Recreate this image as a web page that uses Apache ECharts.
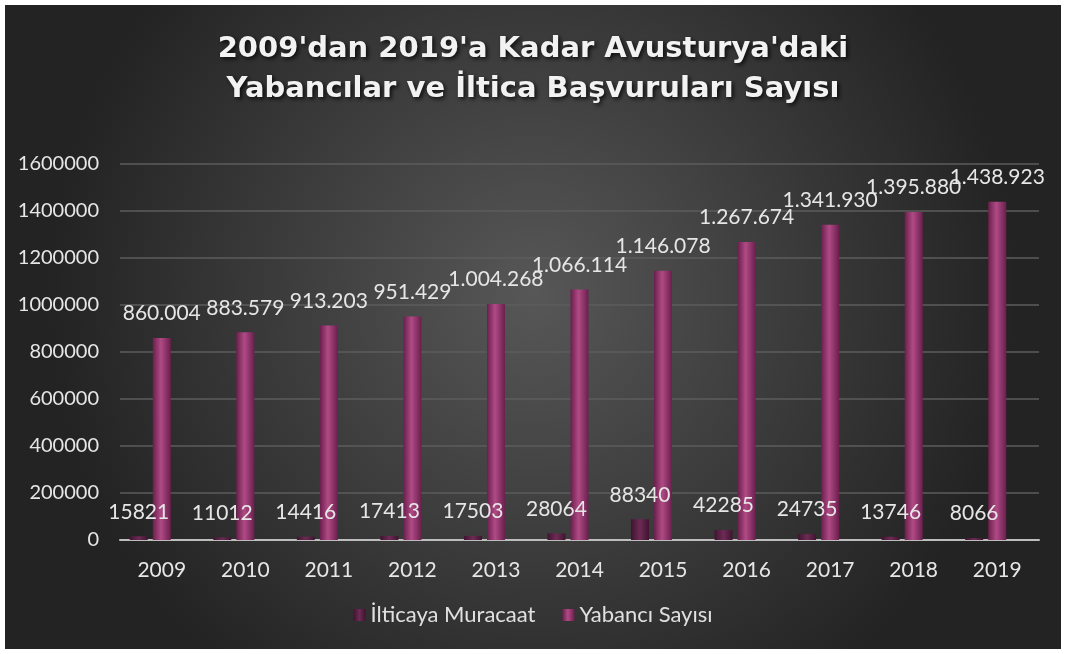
<!DOCTYPE html>
<html>
<head>
<meta charset="utf-8">
<script src="https://cdn.jsdelivr.net/npm/echarts@6/dist/echarts.min.js"></script>
<style>
  html, body { margin: 0; padding: 0; background: #fff; }
  #chart { position: absolute; left: 5px; top: 5px; width: 1056px; height: 644px; }
</style>
</head>
<body>
<div id="chart"></div>
<script>
  var years = ['2009', '2010', '2011', '2012', '2013', '2014', '2015', '2016', '2017', '2018', '2019'];
  var iltica = [15821, 11012, 14416, 17413, 17503, 28064, 88340, 42285, 24735, 13746, 8066];
  var yabanci = [860004, 883579, 913203, 951429, 1004268, 1066114, 1146078, 1267674, 1341930, 1395880, 1438923];

  var font = 'Lato, "Open Sans", sans-serif';

  function dotted(v) {
    return String(v).replace(/\B(?=(\d{3})+(?!\d))/g, '.');
  }

  var myChart = echarts.init(document.getElementById('chart'));
  window.onresize = myChart.resize;
  myChart.setOption({
    backgroundColor: {
      type: 'radial', x: 0.5, y: 0.45, r: 0.75,
      colorStops: [
        { offset: 0, color: '#575757' },
        { offset: 1, color: '#232323' }
      ]
    },
    title: {
      text: "2009'dan 2019'a Kadar Avusturya'daki\nYabancılar ve İltica Başvuruları Sayısı",
      left: 'center',
      top: 19,
      textStyle: {
        color: '#f2f2f2',
        fontFamily: '"DejaVu Sans", sans-serif',
        fontWeight: 'bold',
        fontSize: 29,
        lineHeight: 40,
        textShadowColor: 'rgba(0,0,0,0.8)',
        textShadowBlur: 4,
        textShadowOffsetX: 2,
        textShadowOffsetY: 2
      }
    },
    legend: {
      data: ['İlticaya Muracaat', 'Yabancı Sayısı'],
      bottom: 18,
      left: 'center',
      icon: 'rect',
      itemWidth: 12,
      itemHeight: 12,
      itemGap: 27,
      textStyle: { color: '#e0e0e0', fontFamily: font, fontSize: 22 }
    },
    grid: {
      left: 115,
      right: 22,
      top: 159,
      bottom: 109
    },
    xAxis: {
      type: 'category',
      data: years,
      axisTick: { show: false },
      axisLine: { lineStyle: { color: '#bdbdbd', width: 2 } },
      axisLabel: { color: '#e6e6e6', fontFamily: font, fontSize: 21, margin: 20 }
    },
    yAxis: {
      type: 'value',
      min: 0,
      max: 1600000,
      interval: 200000,
      axisLine: { show: false },
      axisTick: { show: false },
      splitLine: { lineStyle: { color: '#5c5c5c', width: 1.5 } },
      axisLabel: {
        color: '#e6e6e6', fontFamily: font, fontSize: 20, margin: 21,
        formatter: function (v) { return String(v); }
      }
    },
    series: [
      {
        name: 'İlticaya Muracaat',
        type: 'bar',
        data: iltica,
        barWidth: 18,
        barGap: '28%',
        itemStyle: {
          color: {
            type: 'linear', x: 0, y: 0, x2: 1, y2: 0,
            colorStops: [
              { offset: 0, color: '#3f1430' },
              { offset: 0.5, color: '#6e2b55' },
              { offset: 1, color: '#3f1430' }
            ]
          }
        },
        label: {
          show: true,
          position: 'top',
          distance: 14,
          color: '#e6e6e6',
          fontFamily: font,
          fontSize: 21
        }
      },
      {
        name: 'Yabancı Sayısı',
        type: 'bar',
        data: yabanci,
        barWidth: 18,
        itemStyle: {
          color: {
            type: 'linear', x: 0, y: 0, x2: 1, y2: 0,
            colorStops: [
              { offset: 0, color: '#6a1f4d' },
              { offset: 0.45, color: '#b04a85' },
              { offset: 1, color: '#6a1f4d' }
            ]
          }
        },
        label: {
          show: true,
          position: 'top',
          distance: 14,
          color: '#e6e6e6',
          fontFamily: font,
          fontSize: 21,
          formatter: function (p) { return dotted(p.value); }
        }
      },
      {
        // empty slot so the two visible bars sit left of the category centre like the original
        name: 'pad',
        type: 'bar',
        data: [],
        barWidth: 18
      }
    ]
  });
</script>
</body>
</html>
